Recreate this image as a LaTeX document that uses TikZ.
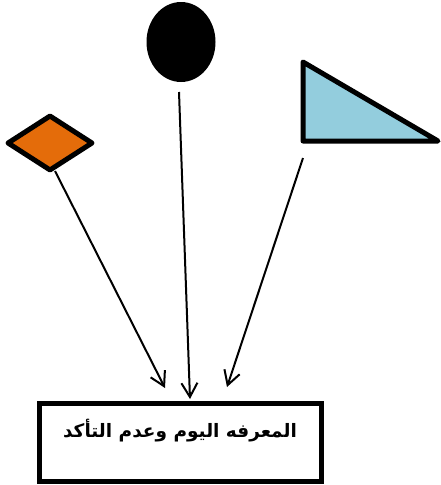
\documentclass[tikz,border=0pt]{standalone}
\usepackage{fontspec}
\newfontfamily\arabicfont[Script=Arabic]{DejaVu Sans}
\TeXXeTstate=1
\usetikzlibrary{shapes.geometric,arrows.meta}
\definecolor{orangefill}{HTML}{E46C0A}
\definecolor{bluefill}{HTML}{93CDDD}
\begin{document}
\begin{tikzpicture}[x=1pt,y=-1pt,
  shapeline/.style={draw=black,line width=5pt,line join=round},
  conn/.style={line width=2pt,-{Straight Barb[length=14pt,width=16pt,line width=2pt]}}]
\useasboundingbox (0,0) rectangle (441,485);
\node[ellipse,fill=black,minimum width=69pt,minimum height=80pt,inner sep=0pt] (ellipse) at (181,42) {};
\node[diamond,shapeline,fill=orangefill,minimum width=86pt,minimum height=56pt,aspect=1.55,inner sep=0pt] (diamond) at (50,143) {};
\draw[shapeline,fill=bluefill] (303,62) -- (303,141) -- (438,141) -- cycle;
\coordinate (triangle) at (303,141);
\node[draw=black,line width=5pt,minimum width=282pt,minimum height=78pt,inner sep=0pt] (box) at (180,442) {};
\node (label) at (180,431) {\arabicfont\bfseries\fontsize{18.5pt}{22pt}\selectfont\beginR المعرفه اليوم وعدم التأكد\endR};
\coordinate (s1) at (55,171);
\coordinate (s2) at (179,92);
\coordinate (s3) at (303,158);
\coordinate (e1) at (165,388);
\coordinate (e2) at (190,399);
\coordinate (e3) at (227,387);
\draw[conn] (s1) -- (e1);
\draw[conn] (s2) -- (e2);
\draw[conn] (s3) -- (e3);
\end{tikzpicture}
\end{document}
